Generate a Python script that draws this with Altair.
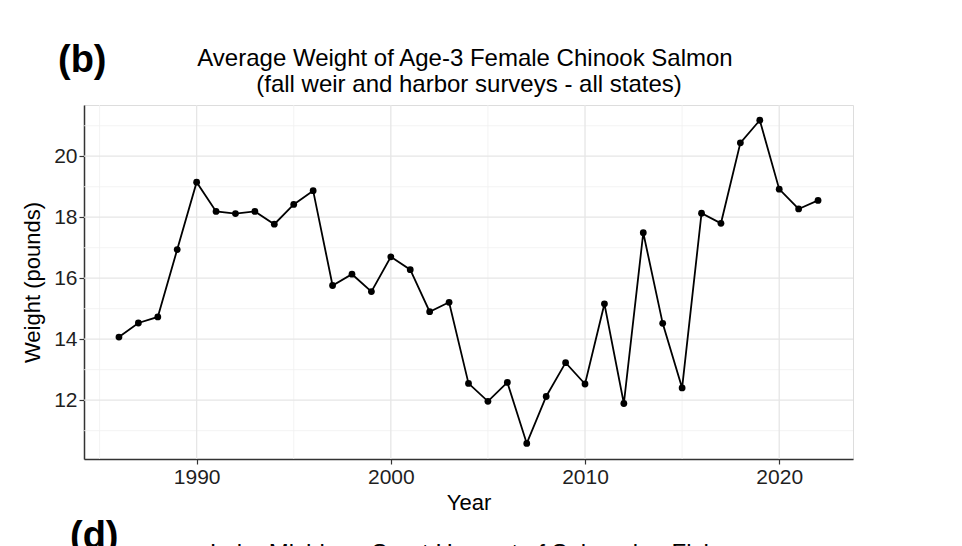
import altair as alt
import pandas as pd

# ---- data ----
years = list(range(1986, 2023))
weights = [14.07, 14.53, 14.73, 16.94, 19.15, 18.19, 18.12, 18.19, 17.77, 18.42,
           18.87, 15.76, 16.13, 15.56, 16.70, 16.28, 14.90, 15.21, 12.55, 11.96,
           12.58, 10.58, 12.12, 13.23, 12.53, 15.16, 11.89, 17.49, 14.52, 12.40,
           18.13, 17.80, 20.44, 21.18, 18.92, 18.27, 18.55]
x_major = [1990, 2000, 2010, 2020]
x_minor = [1985, 1995, 2005, 2015]
y_major = [12, 14, 16, 18, 20]
y_minor = [11, 13, 15, 17, 19, 21]
x_domain = [1984.2, 2023.8]
y_domain = [10.07, 21.68]
panel_label = "(b)"
title_line1 = "Average Weight of Age-3 Female Chinook Salmon"
title_line2 = "(fall weir and harbor surveys - all states)"
next_label = "(d)"
next_title = "Lake Michigan Sport Harvest of Salmonine Fish"
x_title = "Year"
y_title = "Weight (pounds)"

df = pd.DataFrame({"Year": years, "Weight": weights})
FONT = "Liberation Sans"

xs = alt.Scale(domain=x_domain, nice=False, zero=False)
ys = alt.Scale(domain=y_domain, nice=False, zero=False)

xaxis = alt.Axis(values=x_major, format="d", grid=False, title=x_title,
                 labelFont=FONT, labelFontSize=21, labelColor="#1f1f1f",
                 labelPadding=2, tickSize=5, tickColor="#333333", tickWidth=1.2,
                 domainColor="#333333", domainWidth=1.5,
                 titleFont=FONT, titleFontSize=22, titleFontWeight="normal",
                 titleColor="#000000", titlePadding=5)
yaxis = alt.Axis(values=y_major, format="d", grid=False, title=y_title,
                 labelFont=FONT, labelFontSize=21, labelColor="#1f1f1f",
                 labelPadding=2, tickSize=5, tickColor="#333333", tickWidth=1.2,
                 domainColor="#333333", domainWidth=1.5,
                 titleFont=FONT, titleFontSize=22, titleFontWeight="normal",
                 titleColor="#000000", titlePadding=9)

gx_minor = alt.Chart(pd.DataFrame({"v": x_minor})).mark_rule(
    color="#f0f0f0", strokeWidth=0.8).encode(x=alt.X("v:Q", scale=xs, axis=xaxis))
gy_minor = alt.Chart(pd.DataFrame({"v": y_minor})).mark_rule(
    color="#f0f0f0", strokeWidth=0.8).encode(y=alt.Y("v:Q", scale=ys, axis=yaxis))
gx_major = alt.Chart(pd.DataFrame({"v": x_major})).mark_rule(
    color="#e6e6e6", strokeWidth=1.3).encode(x=alt.X("v:Q", scale=xs, axis=xaxis))
gy_major = alt.Chart(pd.DataFrame({"v": y_major})).mark_rule(
    color="#e6e6e6", strokeWidth=1.3).encode(y=alt.Y("v:Q", scale=ys, axis=yaxis))

line = alt.Chart(df).mark_line(color="#000000", strokeWidth=1.8).encode(
    x=alt.X("Year:Q", scale=xs, axis=xaxis),
    y=alt.Y("Weight:Q", scale=ys, axis=yaxis),
)
points = alt.Chart(df).mark_circle(color="#000000", opacity=1, size=46).encode(
    x=alt.X("Year:Q", scale=xs, axis=xaxis),
    y=alt.Y("Weight:Q", scale=ys, axis=yaxis),
)

def label(txt, x, y, size, weight="normal", align="left"):
    return alt.Chart(pd.DataFrame({"t": [txt]})).mark_text(
        font=FONT, fontSize=size, fontWeight=weight, align=align,
        baseline="alphabetic", color="#000000").encode(
        text="t:N", x=alt.value(x), y=alt.value(y))

texts = [
    label(panel_label, -26, -33, 38, "bold"),
    label(title_line1, 381, -39, 24, align="center"),
    label(title_line2, 385, -13, 24, align="center"),
    label(next_label, -14, 443, 38, "bold"),
    label(next_title, 126, 456, 24),
]

chart = alt.layer(gx_minor, gy_minor, gx_major, gy_major, line, points, *texts).properties(
    width=769, height=354,
    autosize=alt.AutoSizeParams(type="none"),
    padding={"left": 76, "top": 97, "right": 101, "bottom": 87},
).configure_view(stroke="#7a7a7a", strokeWidth=1.5).configure(background="white")

chart.save("out.html", embed_options={"renderer": "svg", "actions": False})
